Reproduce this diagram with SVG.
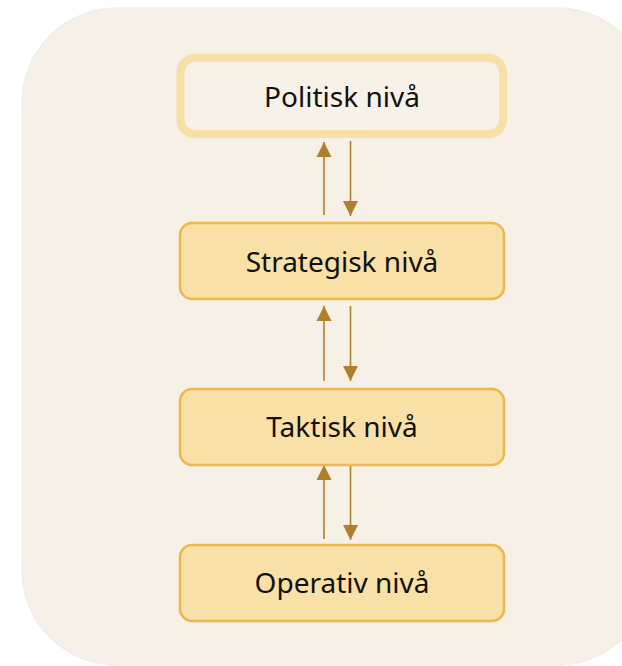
<svg xmlns="http://www.w3.org/2000/svg" width="622" height="666" viewBox="0 0 622 666">
<style>
.bg{fill:#f6f0e6;stroke:#eeeeee;stroke-width:1.5}
.box{fill:#f8e0a6;stroke:#ebb84e;stroke-width:2.5}
.pol{fill:#f7f1e7;stroke:#f8dfa5;stroke-width:8}
.lbl{font-family:"Noto Sans","Open Sans",sans-serif;font-size:28px;fill:#111111;text-anchor:middle}
.arr{stroke:#b07f2d;stroke-width:1.6;fill:none}
</style>
<defs>
<marker id="ah" viewBox="0 0 16 16" refX="15" refY="8" markerWidth="16" markerHeight="16" markerUnits="userSpaceOnUse" orient="auto">
<path d="M0,0.5 L15,8 L0,15.5 Z" fill="#b07f2d"/>
</marker>
</defs>
<rect class="bg" x="22" y="8" width="630" height="657" rx="95" ry="95"/>
<g id="connectors">
<line class="arr" x1="324" y1="215" x2="324" y2="142" marker-end="url(#ah)"/>
<line class="arr" x1="350.5" y1="141" x2="350.5" y2="216" marker-end="url(#ah)"/>
<line class="arr" x1="324" y1="381" x2="324" y2="306" marker-end="url(#ah)"/>
<line class="arr" x1="350.5" y1="306" x2="350.5" y2="381" marker-end="url(#ah)"/>
<line class="arr" x1="324" y1="539" x2="324" y2="465" marker-end="url(#ah)"/>
<line class="arr" x1="350.5" y1="465" x2="350.5" y2="540" marker-end="url(#ah)"/>
</g>
<g id="politisk">
<rect class="pol" x="180.5" y="58" width="322.5" height="76" rx="14"/>
<text class="lbl" x="342" y="107">Politisk nivå</text>
</g>
<g id="strategisk">
<rect class="box" x="180" y="223" width="324" height="76" rx="12"/>
<text class="lbl" x="342" y="272">Strategisk nivå</text>
</g>
<g id="taktisk">
<rect class="box" x="180" y="389" width="324" height="76" rx="12"/>
<text class="lbl" x="342" y="437">Taktisk nivå</text>
</g>
<g id="operativ">
<rect class="box" x="180" y="545" width="324" height="76" rx="12"/>
<text class="lbl" x="342" y="593">Operativ nivå</text>
</g>
</svg>
